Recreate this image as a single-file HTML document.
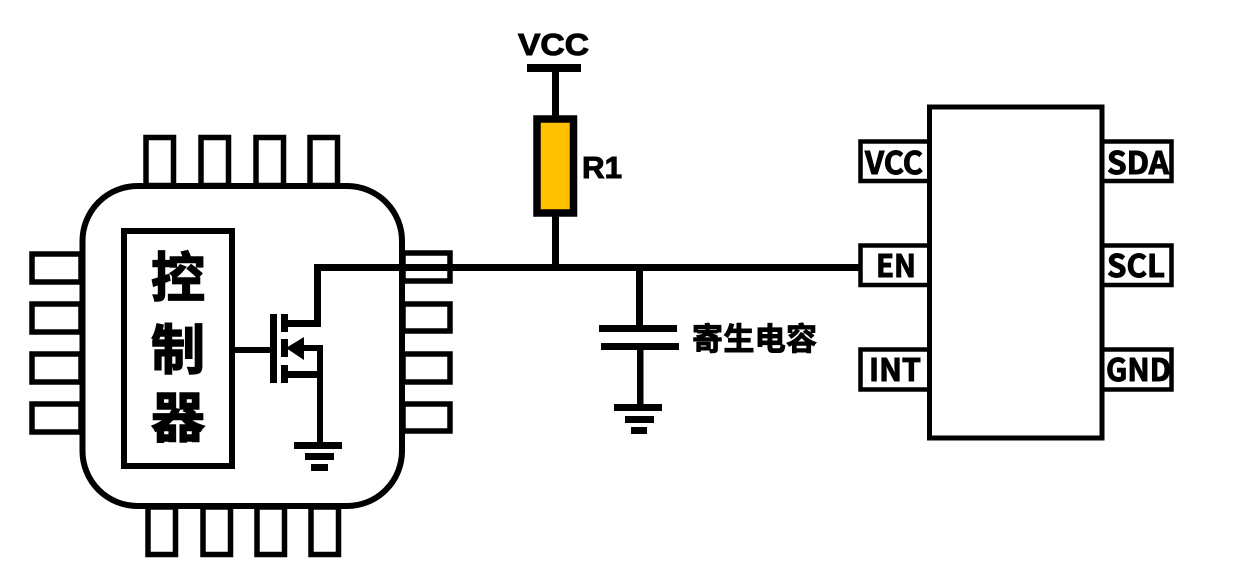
<!DOCTYPE html>
<html lang="zh"><head><meta charset="utf-8"><title>Diagram</title>
<style>html,body{margin:0;padding:0;background:#fff;width:1233px;height:568px;overflow:hidden}svg{display:block}
.n{font-family:"Noto Sans CJK SC","Liberation Sans",sans-serif;font-weight:700;font-size:31px;fill:#000;stroke:#000;stroke-width:1}
.l{font-family:"Liberation Sans",sans-serif;font-weight:700;font-size:31px;fill:#000;stroke:#000;stroke-width:1}
.c{font-family:"Liberation Sans","Noto Sans CJK SC",sans-serif;font-weight:700;fill:#000;stroke:#000}
</style></head><body>
<svg width="1233" height="568" viewBox="0 0 1233 568" xmlns="http://www.w3.org/2000/svg">
<g fill="#fff" stroke="#000" stroke-width="5.5">
<!-- top pins -->
<rect x="146" y="137.500" width="27.500" height="48"/><rect x="201" y="137.500" width="27.500" height="48"/><rect x="256" y="137.500" width="27.500" height="48"/><rect x="310" y="137.500" width="27.500" height="48"/>
<!-- bottom pins -->
<rect x="148" y="507" width="27.500" height="47.500"/><rect x="203" y="507" width="27.500" height="47.500"/><rect x="257" y="507" width="27.500" height="47.500"/><rect x="311" y="507" width="27.500" height="47.500"/>
<!-- left pins -->
<rect x="32" y="254" width="49" height="28"/><rect x="32" y="304" width="49" height="28"/><rect x="32" y="354" width="49" height="28"/><rect x="32" y="404" width="49" height="28"/>
<!-- right pins -->
<rect x="403" y="253" width="47" height="28"/><rect x="403" y="304" width="47" height="27"/><rect x="403" y="354" width="47" height="28"/><rect x="403" y="404" width="47" height="27"/>
</g>
<rect x="82.500" y="186" width="319.500" height="320" rx="55" ry="55" fill="none" stroke="#000" stroke-width="6"/>
<rect x="124" y="231" width="108" height="235" fill="#fff" stroke="#000" stroke-width="6"/>
<text class="c" x="178" y="297" font-size="54" text-anchor="middle" stroke-width="1.500">控</text>
<text class="c" x="178" y="369" font-size="54" text-anchor="middle" stroke-width="1.500">制</text>
<text class="c" x="178" y="437" font-size="54" text-anchor="middle" stroke-width="1.500">器</text>

<!-- MOSFET and main net -->
<g fill="#000" stroke="none">
<rect x="314" y="264" width="548" height="7"/>
<rect x="314" y="264" width="7" height="63"/>
<rect x="285" y="320" width="36" height="7"/>
<rect x="235" y="347" width="36" height="6"/>
<rect x="270" y="314" width="7" height="69"/>
<rect x="281" y="314" width="7" height="18"/>
<rect x="281" y="339" width="7" height="18"/>
<rect x="281" y="365" width="7" height="18"/>
<rect x="286" y="371" width="36" height="7"/>
<rect x="317" y="345" width="6" height="98"/>
<rect x="298" y="345" width="25" height="6"/>
<polygon points="286,348 304,337 304,360"/>
<rect x="294" y="442" width="48" height="7"/>
<rect x="305" y="453" width="29" height="7"/>
<rect x="311" y="464" width="17" height="7"/>

<!-- VCC and R1 -->
<rect x="527" y="64" width="54" height="8"/>
<rect x="552" y="70" width="7" height="196"/>
<!-- capacitor -->
<rect x="636" y="267" width="7" height="60"/>
<rect x="599" y="325" width="78" height="7"/>
<rect x="601" y="343" width="78" height="7"/>
<rect x="637" y="348" width="6.500" height="58"/>
<rect x="614" y="404" width="48" height="7"/>
<rect x="625" y="416" width="29" height="7"/>
<rect x="631" y="427" width="16" height="7"/>
</g>
<rect x="537" y="119" width="36.500" height="94" fill="#FFC000" stroke="#000" stroke-width="7.500"/>
<text class="l" x="518" y="55" textLength="71" lengthAdjust="spacingAndGlyphs">VCC</text>
<text class="l" x="582" y="178" textLength="40" lengthAdjust="spacingAndGlyphs">R1</text>
<text class="c" x="692" y="350" font-size="31" textLength="125" stroke-width="1">寄生电容</text>

<!-- right IC -->
<g fill="#fff" stroke="#000" stroke-width="4.500">
<rect x="860.500" y="141.500" width="70" height="39.500"/><rect x="860.500" y="245.500" width="70" height="39.500"/><rect x="860.500" y="349.500" width="70" height="40"/>
<rect x="1100" y="141.500" width="71.500" height="39.500"/><rect x="1100" y="245.500" width="71.500" height="39.500"/><rect x="1100" y="349.500" width="71.500" height="40"/>
</g>
<rect x="929.500" y="107" width="172.500" height="331" fill="#fff" stroke="#000" stroke-width="5"/>
<text class="n" x="865" y="174" textLength="58" lengthAdjust="spacingAndGlyphs">VCC</text>
<text class="n" x="876" y="277" textLength="40" lengthAdjust="spacingAndGlyphs">EN</text>
<text class="n" x="869" y="381" textLength="52" lengthAdjust="spacingAndGlyphs">INT</text>
<text class="n" x="1107" y="174" textLength="62" lengthAdjust="spacingAndGlyphs">SDA</text>
<text class="n" x="1107" y="277" textLength="58" lengthAdjust="spacingAndGlyphs">SCL</text>
<text class="n" x="1106" y="381" textLength="65" lengthAdjust="spacingAndGlyphs">GND</text>
</svg>
</body></html>
